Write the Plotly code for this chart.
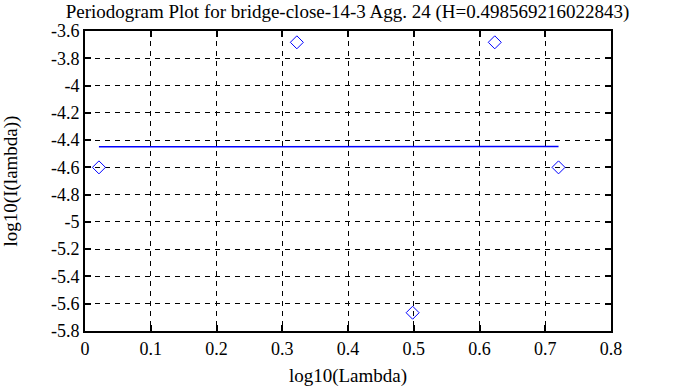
import plotly.graph_objects as go

# Data
log_lambda = [0.0212, 0.3222, 0.4983, 0.6232, 0.7202]
log_I = [-4.60, -3.683, -5.666, -3.683, -4.60]
fit_x = [0.0212, 0.7202]
fit_y = [-4.449, -4.447]

x_ticks = [0, 0.1, 0.2, 0.3, 0.4, 0.5, 0.6, 0.7, 0.8]
x_tick_labels = ["0", "0.1", "0.2", "0.3", "0.4", "0.5", "0.6", "0.7", "0.8"]
y_ticks = [-5.8, -5.6, -5.4, -5.2, -5.0, -4.8, -4.6, -4.4, -4.2, -4.0, -3.8, -3.6]
y_tick_labels = ["-5.8", "-5.6", "-5.4", "-5.2", "-5", "-4.8", "-4.6", "-4.4", "-4.2", "-4", "-3.8", "-3.6"]

font = "Liberation Serif, Times New Roman, serif"

fig = go.Figure()
fig.add_trace(go.Scatter(x=log_lambda, y=log_I, mode="markers",
                         marker=dict(symbol="diamond-open", size=10, color="#0000ff",
                                     line=dict(width=1, color="#0000ff")),
                         showlegend=False))
fig.add_trace(go.Scatter(x=fit_x, y=fit_y, mode="lines",
                         line=dict(color="#0000ff", width=1.5), showlegend=False))

fig.update_layout(
    width=695, height=387,
    margin=dict(l=85, r=84, t=31, b=56, autoexpand=False),
    paper_bgcolor="white", plot_bgcolor="white",
    font=dict(family=font, size=18, color="black"),
    title=dict(text="Periodogram Plot for bridge-close-14-3 Agg. 24 (H=0.498569216022843)",
               x=0.5, xanchor="center", y=0.988, yanchor="top",
               font=dict(family=font, size=19, color="black")),
)
fig.update_xaxes(range=[0, 0.8], tickvals=x_ticks, ticktext=x_tick_labels,
                 showgrid=True, gridcolor="black", griddash="5px,5px", gridwidth=1,
                 showline=True, linecolor="black", linewidth=2, mirror="ticks",
                 ticks="inside", ticklen=6, tickwidth=2, tickcolor="black",
                 zeroline=False, automargin=False,
                 title=dict(text="log10(Lambda)", standoff=12, font=dict(family=font, size=19)),
                 tickfont=dict(family=font, size=18))
fig.update_yaxes(range=[-5.8, -3.6], tickvals=y_ticks, ticktext=y_tick_labels,
                 showgrid=True, gridcolor="black", griddash="5px,5px", gridwidth=1,
                 showline=True, linecolor="black", linewidth=2, mirror="ticks",
                 ticks="inside", ticklen=6, tickwidth=2, tickcolor="black",
                 zeroline=False, automargin=False,
                 title=dict(text="log10(I(lambda))", standoff=28, font=dict(family=font, size=19)),
                 tickfont=dict(family=font, size=18))

fig.write_html("out.html", config={"displayModeBar": False},
               post_script="document.body.style.margin='0';")
